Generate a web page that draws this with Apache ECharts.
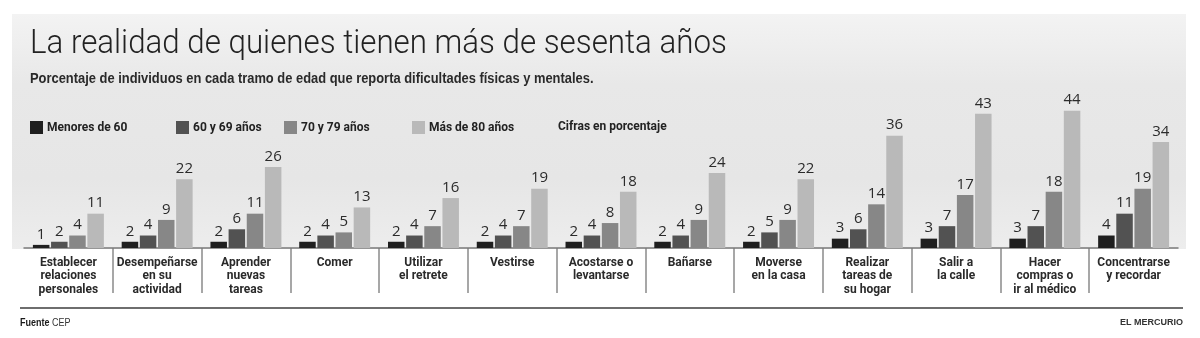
<!DOCTYPE html>
<html>
<head>
<meta charset="utf-8">
<script src="https://cdn.jsdelivr.net/npm/echarts@6/dist/echarts.min.js"></script>
<style>
  html, body { margin: 0; padding: 0; background: #ffffff; }
  #chart { width: 1200px; height: 338px; }
</style>
</head>
<body>
<div id="chart"></div>
<script>
// Activities (x axis) and percentage per age bracket
const categories = [
  'Establecer\nrelaciones\npersonales',
  'Desempeñarse\nen su\nactividad',
  'Aprender\nnuevas\ntareas',
  'Comer',
  'Utilizar\nel retrete',
  'Vestirse',
  'Acostarse o\nlevantarse',
  'Bañarse',
  'Moverse\nen la casa',
  'Realizar\ntareas de\nsu hogar',
  'Salir a\nla calle',
  'Hacer\ncompras o\nir al médico',
  'Concentrarse\ny recordar'
];
const seriesNames = ['Menores de 60', '60 y 69 años', '70 y 79 años', 'Más de 80 años'];
const menores60 = [1, 2, 2, 2, 2, 2, 2, 2, 2, 3, 3, 3, 4];
const de60a69   = [2, 4, 6, 4, 4, 4, 4, 4, 5, 6, 7, 7, 11];
const de70a79   = [4, 9, 11, 5, 7, 7, 8, 9, 9, 14, 17, 18, 19];
const mas80     = [11, 22, 26, 13, 16, 19, 18, 24, 22, 36, 43, 44, 34];

const barColors = ['#1f1f1f', '#525252', '#878787', '#b9b9b9'];
const seriesData = [menores60, de60a69, de70a79, mas80];

const sans = 'Roboto, "Liberation Sans", sans-serif';

const chart = echarts.init(document.getElementById('chart'), null, { renderer: 'canvas' });

const legendLefts = [30, 176, 284, 412];

const option = {
  backgroundColor: '#ffffff',
  animation: false,
  grid: [
    { left: 24, right: 22, top: 92, bottom: 90 },
    { left: 24, right: 22, top: 248, height: 45 }
  ],
  legend: seriesNames.map((name, i) => ({
    data: [name],
    left: legendLefts[i],
    top: 121,
    itemWidth: 13,
    itemHeight: 13,
    icon: 'rect',
    padding: 0,
    selectedMode: false,
    textStyle: {
      fontFamily: sans,
      fontWeight: 'bold',
      fontSize: 12,
      color: '#222222',
      padding: [0, 0, 0, -1]
    }
  })),
  xAxis: [
    {
      type: 'category',
      gridIndex: 0,
      data: categories,
      axisLine: { show: true, lineStyle: { color: '#7a7a7a', width: 1.5 } },
      axisTick: { show: false },
      axisLabel: {
        interval: 0,
        margin: 8,
        fontFamily: sans,
        fontWeight: 'bold',
        fontSize: 12,
        lineHeight: 13.5,
        color: '#2a2a2a'
      },
      splitLine: { show: false }
    },
    {
      // separators between activities, below the baseline
      type: 'category',
      gridIndex: 1,
      data: categories,
      axisLine: { show: false },
      axisTick: { show: false },
      axisLabel: { show: false },
      splitLine: {
        show: true,
        showMinLine: false,
        showMaxLine: false,
        interval: 0,
        lineStyle: { color: '#8a8a8a', width: 1.5 }
      }
    }
  ],
  yAxis: [
    { type: 'value', gridIndex: 0, min: 0, max: 50, show: false },
    { type: 'value', gridIndex: 1, min: 0, max: 1, show: false }
  ],
  series: seriesData.map((data, i) => ({
    name: seriesNames[i],
    type: 'bar',
    xAxisIndex: 0,
    yAxisIndex: 0,
    data: data,
    barWidth: 16.5,
    barGap: '10%',
    itemStyle: { color: barColors[i] },
    label: {
      show: true,
      position: 'top',
      distance: 3,
      fontFamily: '"Open Sans", sans-serif',
      fontSize: 15,
      color: '#2b2b2b'
    }
  })),
  graphic: [
    {
      type: 'rect',
      z: -10,
      silent: true,
      shape: { x: 12, y: 14, width: 1174, height: 235 },
      style: {
        fill: {
          type: 'linear', x: 0, y: 0, x2: 0, y2: 1,
          colorStops: [
            { offset: 0, color: '#f3f3f3' },
            { offset: 0.3, color: '#e8e8e8' },
            { offset: 0.7, color: '#e6e6e6' },
            { offset: 1, color: '#ededed' }
          ]
        }
      }
    },
    {
      type: 'text',
      left: 30,
      top: 27,
      scaleX: 0.92,
      style: {
        text: 'La realidad de quienes tienen más de sesenta años',
        font: '300 34px Roboto, sans-serif',
        fill: '#222222'
      }
    },
    {
      type: 'text',
      left: 30,
      top: 71,
      scaleX: 0.86,
      style: {
        text: 'Porcentaje de individuos en cada tramo de edad que reporta dificultades físicas y mentales.',
        font: 'bold 15px "Liberation Sans", sans-serif',
        fill: '#2a2a2a'
      }
    },
    {
      type: 'text',
      left: 558,
      top: 121,
      style: {
        text: 'Cifras en porcentaje',
        font: 'bold 12px ' + sans,
        fill: '#222222'
      }
    },
    {
      type: 'line',
      silent: true,
      shape: { x1: 20, y1: 308, x2: 1183, y2: 308 },
      style: { stroke: '#6e6e6e', lineWidth: 2 }
    },
    {
      type: 'text',
      left: 20,
      top: 318,
      scaleX: 0.9,
      style: {
        text: '{b|Fuente} CEP',
        font: '10px "Liberation Sans", sans-serif',
        fill: '#333333',
        rich: {
          b: { font: 'bold 10px "Liberation Sans", sans-serif', fill: '#1a1a1a' }
        }
      }
    },
    {
      type: 'text',
      right: 17,
      top: 318,
      style: {
        text: 'EL MERCURIO',
        font: 'bold 9px "Liberation Sans", sans-serif',
        fill: '#333333'
      }
    }
  ]
};

chart.setOption(option);
</script>
</body>
</html>
